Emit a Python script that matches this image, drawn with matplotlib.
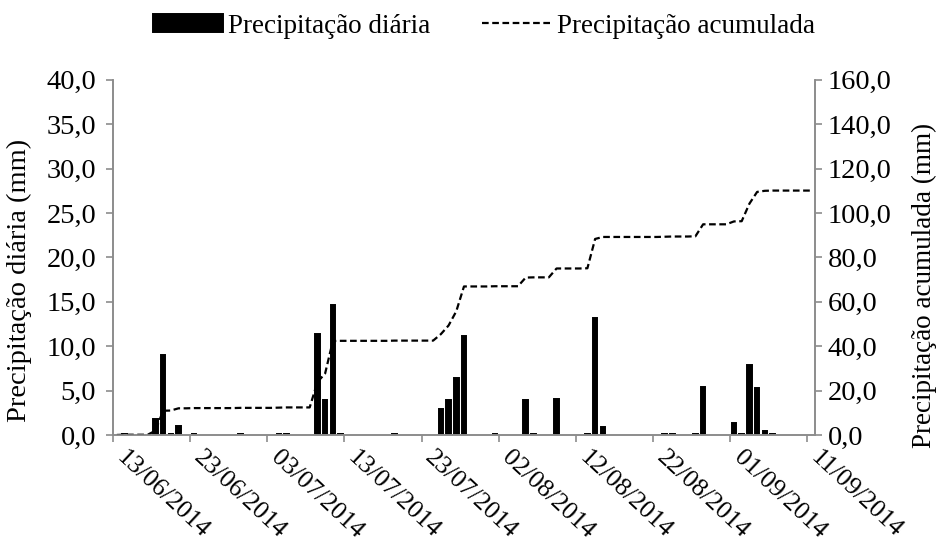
import numpy as np
import pandas as pd
import matplotlib
matplotlib.use("Agg")
import matplotlib.pyplot as plt
import matplotlib.dates as mdates
from matplotlib.ticker import FuncFormatter
from matplotlib.transforms import ScaledTranslation

# days with rain (mm)
rain_dates = [
    "2014-06-14", "2014-06-18", "2014-06-19", "2014-06-20", "2014-06-21",
    "2014-06-23", "2014-06-29", "2014-07-04", "2014-07-05", "2014-07-09",
    "2014-07-10", "2014-07-11", "2014-07-12", "2014-07-19", "2014-07-25",
    "2014-07-26", "2014-07-27", "2014-07-28", "2014-08-01", "2014-08-05",
    "2014-08-06", "2014-08-09", "2014-08-13", "2014-08-14", "2014-08-15",
    "2014-08-23", "2014-08-24", "2014-08-27", "2014-08-28", "2014-09-01",
    "2014-09-02", "2014-09-03", "2014-09-04", "2014-09-05", "2014-09-06",
]
rain_mm = [
    0.1, 1.8, 9.0, 0.1, 1.0,
    0.1, 0.1, 0.1, 0.1, 11.4,
    3.9, 14.6, 0.1, 0.1, 2.9,
    3.9, 6.4, 11.2, 0.1, 3.9,
    0.1, 4.0, 0.1, 13.2, 0.9,
    0.1, 0.1, 0.1, 5.4, 1.3,
    0.1, 7.9, 5.3, 0.5, 0.1,
]
start, end = "2014-06-13", "2014-09-11"
tick_dates = pd.date_range(start, "2014-09-11", freq="10D")
left_ticks = np.arange(0, 40.1, 5)
right_ticks = np.arange(0, 160.1, 20)


def comma(v, pos):
    return f"{v:.1f}".replace(".", ",")


def main():
    plt.rcParams["font.family"] = ["Liberation Serif", "DejaVu Serif"]
    days = pd.date_range(start, end, freq="D")
    daily = pd.Series(0.0, index=days)
    daily.loc[pd.to_datetime(rain_dates)] = rain_mm
    accum = daily.cumsum()

    # Excel puts each day in the middle of its slot
    x = days + pd.Timedelta(hours=12)
    xd = pd.to_datetime(rain_dates) + pd.Timedelta(hours=12)

    fig = plt.figure(figsize=(9.36, 5.43), dpi=100)
    ax = fig.add_axes([0.1207, 0.199, 0.7500, 0.654])
    ax2 = ax.twinx()

    bars = ax.bar(xd, rain_mm, width=0.6, color="black", edgecolor="black",
                  linewidth=1.4, label="Precipitação diária")
    line, = ax2.plot(x, accum.values, color="black", lw=1.6,
                     linestyle=(0, (3, 1.6)), label="Precipitação acumulada")

    ax.set_xlim(pd.Timestamp(start), pd.Timestamp("2014-09-12"))
    ax.set_ylim(0, 40)
    ax2.set_ylim(0, 160)
    ax.set_yticks(left_ticks)
    ax2.set_yticks(right_ticks)
    ax.yaxis.set_major_formatter(FuncFormatter(comma))
    ax2.yaxis.set_major_formatter(FuncFormatter(comma))
    ax.set_xticks(tick_dates)
    ax.xaxis.set_major_formatter(mdates.DateFormatter("%d/%m/%Y"))

    grey = "#8c8c8c"
    for a in (ax, ax2):
        a.spines["top"].set_visible(False)
        for s in ("left", "right", "bottom"):
            a.spines[s].set_color(grey)
            a.spines[s].set_linewidth(1.2)
        a.tick_params(colors=grey, labelcolor="black", labelsize=20.5,
                      length=5, width=1.2)
    ax.tick_params(axis="y", pad=7)
    ax2.tick_params(axis="y", pad=4)

    shift = ScaledTranslation(0.14, 0.0, fig.dpi_scale_trans)
    for lab in ax.get_xticklabels():
        lab.set_rotation(-43)
        lab.set_ha("left")
        lab.set_va("top")
        lab.set_rotation_mode("anchor")
        lab.set_fontsize(18.5)
        lab.set_transform(lab.get_transform() + shift)

    ax.set_ylabel("Precipitação diária (mm)", fontsize=20.5)
    ax.yaxis.set_label_coords(-0.115, 0.434)
    ax2.set_ylabel("Precipitação acumulada (mm)", fontsize=19.5, rotation=90)
    ax2.yaxis.set_label_coords(1.138, 0.42)

    fig.legend([bars, line], ["Precipitação diária", "Precipitação acumulada"],
               loc="center", bbox_to_anchor=(0.517, 0.952), ncol=2,
               frameon=False, fontsize=19.5, handlelength=2.58,
               handleheight=0.63, handletextpad=0.18, columnspacing=1.92,
               borderpad=0)

    fig.savefig("out.png", dpi=100)
    plt.close(fig)


if __name__ == "__main__":
    main()
